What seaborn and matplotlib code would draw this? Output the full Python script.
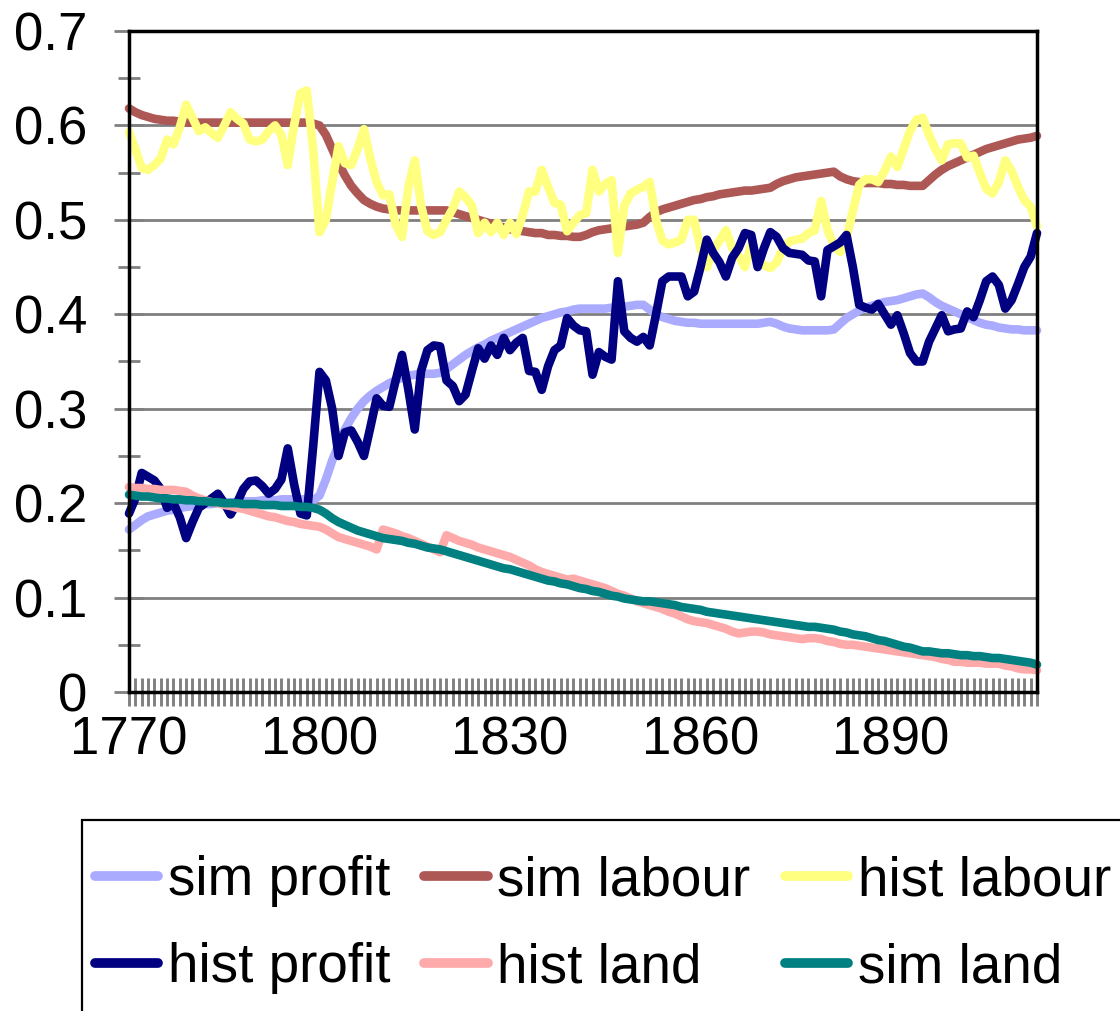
import numpy as np
import pandas as pd
import matplotlib
matplotlib.use("Agg")
import matplotlib.pyplot as plt
import seaborn as sns
from matplotlib.lines import Line2D
from matplotlib.patches import Rectangle
from matplotlib.ticker import FixedLocator, MultipleLocator, FuncFormatter

# ---- data (yearly shares, 1770-1913) ----
years = list(range(1770, 1914))

sim_profit = [
    0.172, 0.177, 0.182, 0.186, 0.188, 0.190, 0.192, 0.193, 0.195, 0.196,
    0.197, 0.198, 0.199, 0.199, 0.200, 0.200, 0.201, 0.201, 0.202, 0.202,
    0.202, 0.203, 0.203, 0.203, 0.204, 0.204, 0.204, 0.204, 0.204, 0.203,
    0.208, 0.225, 0.245, 0.262, 0.278, 0.290, 0.300, 0.308, 0.314, 0.319,
    0.323, 0.327, 0.330, 0.333, 0.335, 0.336, 0.337, 0.337, 0.337, 0.338,
    0.342, 0.347, 0.352, 0.357, 0.361, 0.365, 0.368, 0.372, 0.375, 0.378,
    0.381, 0.384, 0.387, 0.390, 0.393, 0.396, 0.398, 0.400, 0.402, 0.403,
    0.405, 0.406, 0.406, 0.406, 0.406, 0.406, 0.407, 0.408, 0.408, 0.409,
    0.410, 0.410, 0.405, 0.400, 0.397, 0.395, 0.393, 0.392, 0.391, 0.391,
    0.390, 0.390, 0.390, 0.390, 0.390, 0.390, 0.390, 0.390, 0.390, 0.390,
    0.391, 0.392, 0.390, 0.387, 0.385, 0.384, 0.383, 0.383, 0.383, 0.383,
    0.383, 0.384, 0.390, 0.396, 0.400, 0.404, 0.407, 0.409, 0.411, 0.413,
    0.414, 0.415, 0.417, 0.419, 0.421, 0.422, 0.418, 0.413, 0.409, 0.406,
    0.403, 0.400, 0.397, 0.394, 0.391, 0.389, 0.388, 0.386, 0.385, 0.384,
    0.384, 0.383, 0.383, 0.383]

sim_labour = [
    0.618, 0.614, 0.611, 0.609, 0.607, 0.606, 0.605, 0.605, 0.604, 0.603,
    0.603, 0.603, 0.603, 0.603, 0.603, 0.603, 0.603, 0.603, 0.603, 0.603,
    0.603, 0.603, 0.603, 0.603, 0.603, 0.603, 0.603, 0.603, 0.603, 0.602,
    0.600, 0.590, 0.575, 0.560, 0.547, 0.536, 0.528, 0.521, 0.517, 0.514,
    0.512, 0.511, 0.510, 0.510, 0.510, 0.510, 0.510, 0.510, 0.510, 0.510,
    0.510, 0.508, 0.506, 0.504, 0.502, 0.500, 0.498, 0.496, 0.494, 0.492,
    0.490, 0.489, 0.488, 0.487, 0.486, 0.486, 0.484, 0.484, 0.483, 0.483,
    0.482, 0.482, 0.484, 0.487, 0.489, 0.490, 0.491, 0.492, 0.493, 0.494,
    0.495, 0.497, 0.503, 0.508, 0.511, 0.513, 0.515, 0.517, 0.519, 0.521,
    0.522, 0.524, 0.525, 0.527, 0.528, 0.529, 0.530, 0.531, 0.531, 0.532,
    0.533, 0.534, 0.538, 0.541, 0.543, 0.545, 0.546, 0.547, 0.548, 0.549,
    0.550, 0.551, 0.546, 0.543, 0.541, 0.540, 0.539, 0.539, 0.539, 0.538,
    0.538, 0.537, 0.537, 0.536, 0.536, 0.536, 0.542, 0.548, 0.553, 0.557,
    0.560, 0.563, 0.566, 0.569, 0.572, 0.575, 0.577, 0.579, 0.581, 0.583,
    0.585, 0.586, 0.587, 0.589]

hist_labour = [
    0.593, 0.575, 0.555, 0.553, 0.558, 0.565, 0.585, 0.580, 0.598, 0.622,
    0.608, 0.594, 0.598, 0.592, 0.587, 0.600, 0.614, 0.607, 0.602, 0.585,
    0.583, 0.585, 0.594, 0.600, 0.590, 0.558, 0.600, 0.634, 0.637, 0.575,
    0.487, 0.500, 0.540, 0.578, 0.560, 0.558, 0.575, 0.596, 0.565, 0.540,
    0.526, 0.527, 0.495, 0.482, 0.535, 0.563, 0.515, 0.488, 0.484, 0.487,
    0.500, 0.512, 0.530, 0.524, 0.515, 0.486, 0.497, 0.487, 0.497, 0.484,
    0.497, 0.485, 0.505, 0.530, 0.530, 0.553, 0.535, 0.518, 0.516, 0.488,
    0.497, 0.505, 0.507, 0.553, 0.530, 0.538, 0.542, 0.465, 0.515, 0.528,
    0.532, 0.535, 0.540, 0.500, 0.478, 0.474, 0.476, 0.479, 0.500, 0.500,
    0.470, 0.450, 0.468, 0.478, 0.489, 0.470, 0.462, 0.450, 0.474, 0.458,
    0.452, 0.449, 0.455, 0.470, 0.477, 0.479, 0.480, 0.486, 0.489, 0.520,
    0.490, 0.473, 0.466, 0.480, 0.510, 0.537, 0.543, 0.543, 0.540, 0.552,
    0.567, 0.556, 0.575, 0.594, 0.606, 0.608, 0.590, 0.575, 0.563, 0.580,
    0.581, 0.581, 0.566, 0.568, 0.550, 0.533, 0.528, 0.540, 0.563, 0.552,
    0.535, 0.521, 0.514, 0.493]

hist_profit = [
    0.189, 0.205, 0.232, 0.228, 0.224, 0.215, 0.195, 0.200, 0.185, 0.163,
    0.180, 0.195, 0.200, 0.205, 0.210, 0.200, 0.188, 0.200, 0.215, 0.223,
    0.224, 0.218, 0.210, 0.215, 0.225, 0.258, 0.220, 0.189, 0.187, 0.260,
    0.339, 0.330, 0.300, 0.250, 0.275, 0.277, 0.265, 0.250, 0.280, 0.311,
    0.303, 0.302, 0.330, 0.357, 0.320, 0.278, 0.340, 0.362, 0.367, 0.366,
    0.330, 0.324, 0.308, 0.315, 0.340, 0.364, 0.353, 0.367, 0.357, 0.375,
    0.362, 0.370, 0.375, 0.340, 0.339, 0.320, 0.345, 0.362, 0.367, 0.396,
    0.388, 0.383, 0.382, 0.336, 0.360, 0.355, 0.352, 0.435, 0.382, 0.375,
    0.371, 0.376, 0.367, 0.400, 0.435, 0.440, 0.440, 0.440, 0.419, 0.424,
    0.450, 0.479, 0.465, 0.455, 0.440, 0.460, 0.470, 0.486, 0.484, 0.450,
    0.470, 0.487, 0.482, 0.470, 0.465, 0.464, 0.463, 0.457, 0.456, 0.419,
    0.468, 0.472, 0.476, 0.484, 0.450, 0.410, 0.407, 0.405, 0.411, 0.400,
    0.389, 0.399, 0.380, 0.359, 0.350, 0.350, 0.371, 0.385, 0.399, 0.382,
    0.384, 0.385, 0.403, 0.397, 0.415, 0.435, 0.440, 0.431, 0.406, 0.415,
    0.432, 0.450, 0.461, 0.486]

hist_land = [
    0.217, 0.216, 0.216, 0.215, 0.215, 0.214, 0.214, 0.214, 0.213, 0.212,
    0.208, 0.205, 0.203, 0.201, 0.200, 0.198, 0.197, 0.195, 0.194, 0.192,
    0.190, 0.188, 0.186, 0.185, 0.183, 0.181, 0.180, 0.178, 0.177, 0.176,
    0.175, 0.172, 0.168, 0.164, 0.162, 0.160, 0.158, 0.156, 0.154, 0.151,
    0.172, 0.170, 0.168, 0.165, 0.163, 0.160, 0.157, 0.154, 0.151, 0.148,
    0.166, 0.163, 0.160, 0.158, 0.156, 0.153, 0.151, 0.149, 0.147, 0.145,
    0.143, 0.140, 0.137, 0.134, 0.130, 0.127, 0.125, 0.123, 0.121, 0.119,
    0.120, 0.118, 0.116, 0.114, 0.112, 0.110, 0.107, 0.104, 0.102, 0.099,
    0.096, 0.094, 0.092, 0.090, 0.088, 0.085, 0.083, 0.080, 0.077, 0.075,
    0.074, 0.073, 0.071, 0.069, 0.067, 0.064, 0.062, 0.063, 0.064, 0.064,
    0.063, 0.061, 0.060, 0.059, 0.058, 0.057, 0.056, 0.057, 0.057, 0.056,
    0.054, 0.053, 0.051, 0.050, 0.050, 0.049, 0.048, 0.047, 0.046, 0.045,
    0.044, 0.043, 0.042, 0.041, 0.040, 0.039, 0.038, 0.037, 0.035, 0.034,
    0.032, 0.032, 0.031, 0.031, 0.031, 0.030, 0.030, 0.030, 0.028, 0.027,
    0.025, 0.024, 0.024, 0.023]

sim_land = [
    0.209, 0.208, 0.207, 0.207, 0.206, 0.205, 0.205, 0.204, 0.204, 0.203,
    0.203, 0.202, 0.202, 0.201, 0.201, 0.200, 0.200, 0.200, 0.199, 0.199,
    0.199, 0.198, 0.198, 0.198, 0.197, 0.197, 0.197, 0.196, 0.196, 0.195,
    0.193, 0.189, 0.184, 0.180, 0.177, 0.174, 0.171, 0.169, 0.167, 0.165,
    0.163, 0.162, 0.161, 0.160, 0.158, 0.157, 0.155, 0.153, 0.152, 0.151,
    0.149, 0.147, 0.145, 0.143, 0.141, 0.139, 0.137, 0.135, 0.133, 0.131,
    0.130, 0.128, 0.126, 0.124, 0.122, 0.120, 0.118, 0.117, 0.115, 0.114,
    0.112, 0.110, 0.109, 0.107, 0.106, 0.104, 0.102, 0.101, 0.099, 0.098,
    0.097, 0.096, 0.096, 0.095, 0.094, 0.093, 0.092, 0.090, 0.089, 0.088,
    0.087, 0.085, 0.084, 0.083, 0.082, 0.081, 0.080, 0.079, 0.078, 0.077,
    0.076, 0.075, 0.074, 0.073, 0.072, 0.071, 0.070, 0.069, 0.069, 0.068,
    0.067, 0.066, 0.064, 0.063, 0.061, 0.060, 0.059, 0.057, 0.055, 0.054,
    0.052, 0.050, 0.048, 0.047, 0.045, 0.043, 0.043, 0.042, 0.041, 0.041,
    0.040, 0.039, 0.039, 0.038, 0.038, 0.037, 0.036, 0.036, 0.035, 0.034,
    0.033, 0.032, 0.031, 0.029]

series_names = ["sim profit", "sim labour", "hist labour",
                "hist profit", "hist land", "sim land"]
series_vals = [sim_profit, sim_labour, hist_labour,
               hist_profit, hist_land, sim_land]
colors = ["#AAAAFF", "#AE5855", "#FFFF80", "#000080", "#FFAAAA", "#008080"]
palette = dict(zip(series_names, colors))

df = pd.concat(
    [pd.DataFrame({"year": years, "share": v, "series": n})
     for n, v in zip(series_names, series_vals)],
    ignore_index=True)

# ---- styling ----
sns.set_theme(style="white")
plt.rcParams["font.family"] = ["Liberation Sans", "DejaVu Sans"]
plt.rcParams["text.color"] = "black"
plt.rcParams["xtick.labelcolor"] = "black"
plt.rcParams["ytick.labelcolor"] = "black"

fig = plt.figure(figsize=(11.2, 10.11), dpi=100)
ax = fig.add_axes([129 / 1120, 1 - 692 / 1011, 908 / 1120, 661 / 1011])

sns.lineplot(data=df, x="year", y="share", hue="series",
             hue_order=series_names, palette=palette, linewidth=6.2,
             estimator=None, sort=False, legend=False, ax=ax,
             solid_joinstyle="round", solid_capstyle="round", clip_on=False)

ax.set_xlim(years[0], years[-1])
ax.set_ylim(0, 0.7)
ax.set_xlabel("")
ax.set_ylabel("")

# y axis: gridlines every 0.1, small ticks at the halves
ax.yaxis.set_major_locator(MultipleLocator(0.1))
ax.yaxis.set_minor_locator(MultipleLocator(0.05))
ax.yaxis.set_major_formatter(FuncFormatter(lambda v, p: f"{round(v, 1):g}"))
ax.yaxis.grid(True, which="major", color="#808080", linewidth=2)
ax.set_axisbelow(True)
ax.tick_params(axis="y", which="major", direction="inout", length=22, width=2,
               color="#808080", pad=19, labelsize=38, labelcolor="black", left=True)
ax.tick_params(axis="y", which="minor", direction="inout", length=16, width=2,
               color="#808080", left=True)

# x axis: a tick every year, label every 30 years
ax.xaxis.set_major_locator(FixedLocator(years))
ax.xaxis.set_major_formatter(
    FuncFormatter(lambda v, p: f"{int(round(v))}" if (int(round(v)) - 1770) % 30 == 0 else ""))
ax.tick_params(axis="x", which="major", direction="inout", length=20, width=2.1,
               color="#808080", pad=7, labelsize=38, labelcolor="black", bottom=True)

for side in ["left", "right", "top", "bottom"]:
    ax.spines[side].set_visible(True)
    ax.spines[side].set_color("black")
    ax.spines[side].set_linewidth(2.5)
    ax.spines[side].set_zorder(5)

# ---- legend box below the plot (runs off the right/bottom edge as in the original) ----
fig.add_artist(Rectangle((82 / 1120, -0.1), 1.2, 0.1 + 1 - 820 / 1011,
                         transform=fig.transFigure, fill=False,
                         edgecolor="black", linewidth=1.6))

order = [0, 3, 1, 4, 2, 5]
handles = [Line2D([0], [0], color=colors[i], linewidth=7, solid_capstyle="round")
           for i in order]
labels = [series_names[i] for i in order]
leg = fig.legend(handles, labels, loc="upper left",
                 bbox_to_anchor=(95 / 1120, 1 - 855 / 1011), ncol=3,
                 fontsize=39.5, frameon=False,
                 handlelength=1.15, handletextpad=0.18, columnspacing=0.62,
                 borderpad=0, labelspacing=0.64, borderaxespad=0)
for t in leg.get_texts():
    t.set_color("black")

fig.savefig("out.png", dpi=100)
